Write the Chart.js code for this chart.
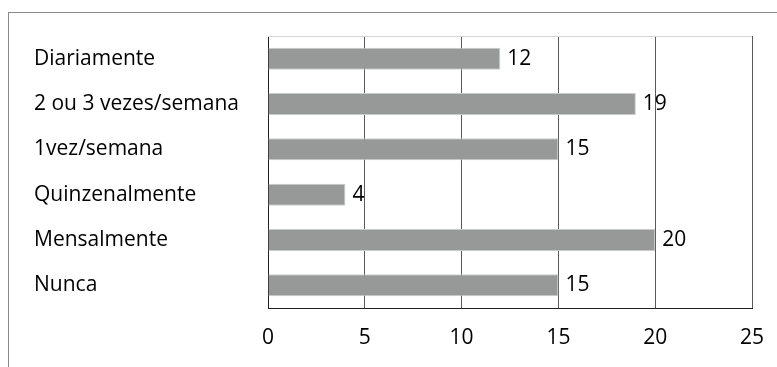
<!DOCTYPE html>
<html>
<head>
<meta charset="utf-8">
<script src="https://cdn.jsdelivr.net/npm/chart.js@4/dist/chart.umd.min.js"></script>
<style>
  html, body { margin: 0; padding: 0; background: #fff; overflow: hidden; width: 777px; height: 367px; }
  #frame {
    position: absolute; left: 8px; top: 12px; width: 769px; height: 355px;
    border-left: 1px solid #8a8a8a; border-top: 1px solid #8a8a8a;
    box-sizing: border-box;
  }
  #wrap { position: absolute; left: 0; top: 0; width: 777px; height: 367px; }
</style>
</head>
<body>
<div id="frame"></div>
<div id="wrap"><canvas id="chart"></canvas></div>
<script>
const categories = ['Diariamente', '2 ou 3 vezes/semana', '1vez/semana', 'Quinzenalmente', 'Mensalmente', 'Nunca'];
const values = [12, 19, 15, 4, 20, 15];
const xTicks = [0, 5, 10, 15, 20, 25];

const FONT = '"Open Sans", sans-serif';

// light line along the top of the plot area
const plotTop = {
  id: 'plotTop',
  beforeDatasetsDraw(chart) {
    const { ctx, chartArea: { left, right, top } } = chart;
    ctx.save();
    ctx.strokeStyle = '#d4d4d4';
    ctx.lineWidth = 1;
    ctx.beginPath();
    ctx.moveTo(left, top + 0.5);
    ctx.lineTo(right, top + 0.5);
    ctx.stroke();
    ctx.restore();
  },
};

// value next to the end of each bar
const barValues = {
  id: 'barValues',
  afterDatasetsDraw(chart) {
    const { ctx } = chart;
    const meta = chart.getDatasetMeta(0);
    ctx.save();
    ctx.fillStyle = '#000';
    ctx.font = '21px ' + FONT;
    ctx.textAlign = 'left';
    ctx.textBaseline = 'middle';
    meta.data.forEach((bar, i) => {
      ctx.fillText(String(values[i]), bar.x + 7, bar.y);
    });
    ctx.restore();
  },
};

new Chart(document.getElementById('chart'), {
  type: 'bar',
  data: {
    labels: categories,
    datasets: [
      {
        data: values,
        backgroundColor: '#979999',
        borderColor: '#c9cbcb',
        borderWidth: 1,
        categoryPercentage: 0.485,
        barPercentage: 1,
      },
    ],
  },
  options: {
    indexAxis: 'y',
    responsive: true,
    maintainAspectRatio: false,
    animation: false,
    layout: { padding: { left: 34, top: 36, right: 25, bottom: 0 } },
    scales: {
      x: {
        min: 0,
        max: 25,
        afterBuildTicks: (scale) => {
          scale.ticks = xTicks.map((v) => ({ value: v }));
        },
        afterFit: (scale) => {
          scale.height = 59;
          scale.paddingLeft = 0;
          scale.paddingRight = 0;
        },
        grid: { color: '#5a5a5a', lineWidth: 1, drawTicks: false },
        border: { color: '#222', width: 1 },
        ticks: {
          padding: 17,
          color: '#000',
          font: { family: FONT, size: 21 },
          maxRotation: 0,
        },
      },
      y: {
        afterFit: (scale) => {
          scale.width = 234;
        },
        grid: { display: false, drawTicks: false },
        border: { color: '#222', width: 1 },
        ticks: {
          crossAlign: 'far',
          color: '#000',
          font: { family: FONT, size: 21 },
        },
      },
    },
    plugins: {
      legend: { display: false },
      tooltip: { enabled: false },
    },
  },
  plugins: [plotTop, barValues],
});
</script>
</body>
</html>
